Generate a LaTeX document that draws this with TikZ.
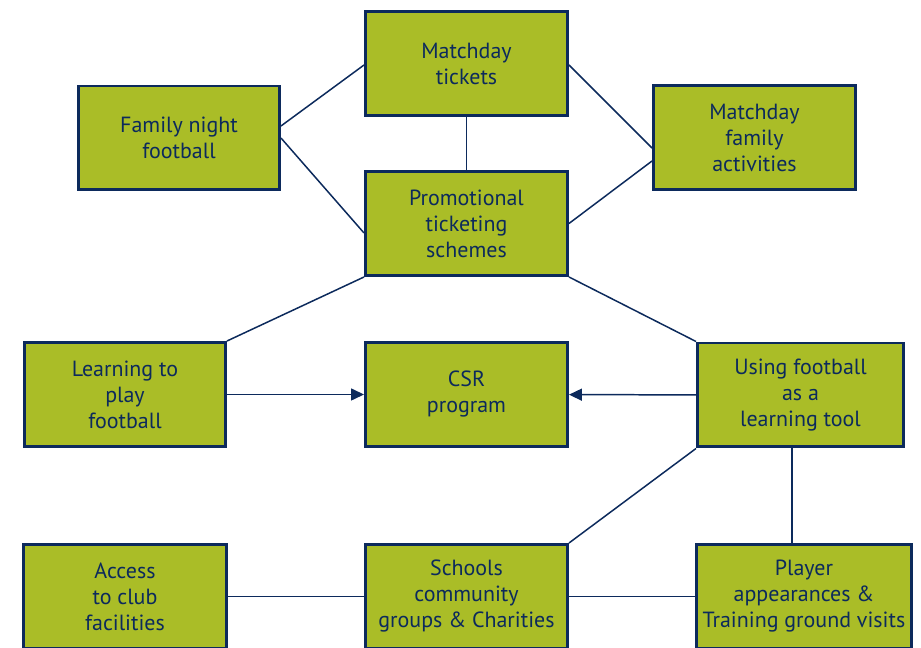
\documentclass[tikz,border=0pt]{standalone}
\usepackage{fontspec}
\setmainfont{PT Sans}
\usepackage{xcolor}
\usepackage{tikz}
\usetikzlibrary{arrows.meta,positioning,calc}
\definecolor{csrgreen}{HTML}{AABD27}
\definecolor{csrnavy}{HTML}{0C2A5C}
\tikzset{
    csrbox/.style={
        rectangle,
        draw=csrnavy,
        fill=csrgreen,
        line width=1.7pt,
        text=csrnavy,
        align=center,
        minimum width=4.04cm,
        minimum height=2.08cm,
        inner sep=2pt,
        font=\fontsize{12.5}{14.8}\selectfont
    },
    link/.style={
        draw=csrnavy,
        line width=0.85pt
    },
    myptr/.style={
        link,
        -{Triangle[length=0.26cm,width=0.24cm]}
    }
}
\begin{document}
\begin{tikzpicture}[x=0.02cm,y=-0.02cm]
        \useasboundingbox (0,0) rectangle (921,648);

        % draw boxes
        \node[csrbox] (tickets) at (466.5,63.5) {Matchday\\tickets};
        \node[csrbox,minimum width=4.02cm] (family) at (179,138) {Family night\\football};
        \node[csrbox] (famact) at (754.5,137.5) {Matchday\\family\\activities};
        \node[csrbox] (promo) at (466.5,223.5) {Promotional\\ticketing\\schemes};
        \node[csrbox,minimum width=4.02cm] (learn) at (125,394.5) {Learning to\\play\\football};
        \node[csrbox] (csr) at (466.5,394.5) {CSR\\program};
        \node[csrbox,minimum width=4.12cm] (tool) at (800.5,395) {Using football\\as a\\learning tool};
        \node[csrbox,minimum width=4.06cm] (access) at (125,596.5) {Access\\to club\\facilities};
        \node[csrbox] (schools) at (466.5,596.5) {Schools\\community\\groups \& Charities};
        \node[csrbox,minimum width=4.3cm] (player) at (804,596.5) {Player\\appearances \&\\Training ground visits};

        % draw plain links
        \foreach \a/\b in {tickets.south/promo.north, promo.south west/learn.north east,
                promo.south east/tool.north west, tool.south west/schools.north east,
                access.east/schools.west, schools.east/player.west}
        {
            \draw[link] (\a) -- (\b);
        }
        \draw[link] ([yshift=0.24cm]family.east) -- ([yshift=-0.03cm]tickets.west);
        \draw[link] (family.east) -- ([yshift=-0.19cm]promo.west);
        \draw[link] ([yshift=-0.03cm]tickets.east) -- ([yshift=-0.21cm]famact.west);
        \draw[link] (promo.east) -- ([yshift=-0.47cm]famact.west);
        \draw[link] ([xshift=-0.17cm]tool.south) -- ([xshift=-0.17cm]tool.south |- player.north);

        % draw arrows into the program
        \draw[myptr] (learn) -- (csr);
        \draw[myptr] (tool) -- (csr);
\end{tikzpicture}
\end{document}
